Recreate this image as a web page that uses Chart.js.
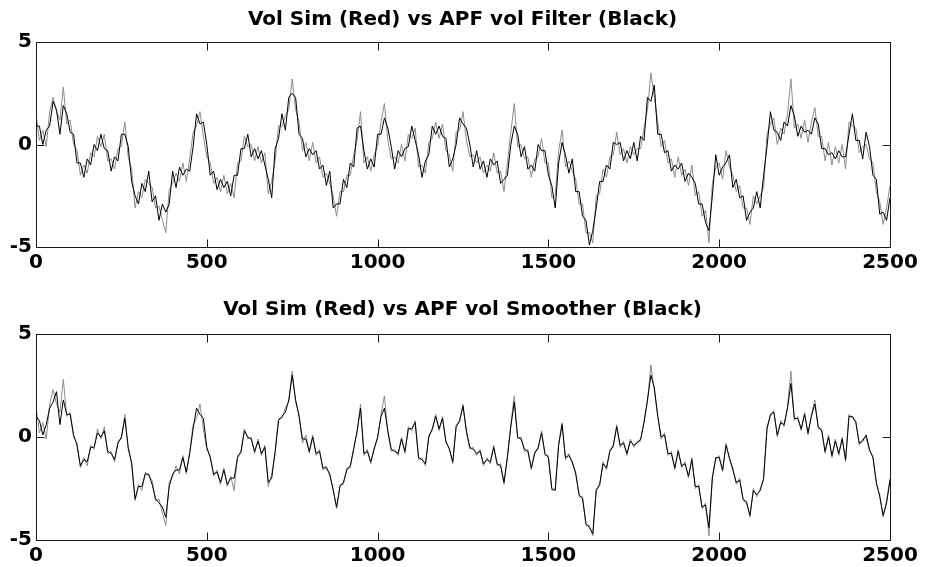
<!DOCTYPE html>
<html>
<head>
<meta charset="utf-8">
<script src="https://cdn.jsdelivr.net/npm/chart.js@4/dist/chart.umd.min.js"></script>
<style>
  html, body { margin: 0; padding: 0; background: #fff; }
  #wrap { position: relative; width: 925px; height: 567px; background: #fff; }
  #c1 { position: absolute; left: 0; top: 0; }
  #c2 { position: absolute; left: 0; top: 283px; }
</style>
</head>
<body>
<div id="wrap">
  <canvas id="c1" width="925" height="283"></canvas>
  <canvas id="c2" width="925" height="284"></canvas>
</div>
<script>
// ---- data (x step of 10 time units, t = 0 .. 2500) ----
const X_STEP = 10;
const X_TICKS = [0, 500, 1000, 1500, 2000, 2500];
const Y_TICKS = [-5, 0, 5];
const TITLES = [
  'Vol Sim (Red) vs APF vol Filter (Black)',
  'Vol Sim (Red) vs APF vol Smoother (Black)'
];

// simulated volatility (drawn grey in the scan)
const SIM = [
  1.5,0.2,0.7,-0.1,1.6,2.3,1.6,1.2,2.8,1.0,
  1.2,0.0,-0.3,-1.5,-1.0,-1.4,-0.4,-0.6,0.4,-0.1,
  0.5,-0.8,-0.7,-1.2,-0.2,-0.1,1.1,-0.6,-1.2,-3.1,
  -2.3,-2.6,-1.7,-1.9,-2.1,-3.1,-3.0,-3.7,-4.3,-2.2,
  -1.9,-1.4,-1.8,-0.9,-1.8,-0.7,0.6,0.9,1.6,0.4,
  -0.6,-0.9,-1.9,-1.6,-2.3,-1.5,-2.4,-1.9,-2.6,-0.9,
  -0.8,0.4,-0.1,0.0,-0.8,-0.1,-0.9,-0.4,-2.4,-1.8,
  -0.8,0.9,0.9,1.4,1.7,3.2,1.7,1.1,-0.3,0.1,
  -0.8,0.1,-0.9,-0.6,-1.6,-1.4,-1.9,-2.5,-3.5,-2.3,
  -2.3,-1.5,-1.5,-0.5,0.2,1.6,-0.9,-0.6,-1.3,-0.5,
  -0.1,1.1,2.0,0.2,-0.7,-0.6,-0.9,0.0,-0.8,0.5,
  0.3,0.8,-1.1,-1.0,-1.4,0.1,0.3,1.1,0.3,1.0,
  -0.3,-0.5,-1.3,0.6,0.7,1.6,0.2,-0.6,-0.5,-0.9,
  -0.6,-1.4,-1.0,-1.3,-0.4,-1.4,-1.3,-2.3,-0.9,0.6,
  2.0,-0.1,0.0,-0.7,-0.6,-1.6,-0.7,-0.6,0.3,-0.9,
  -0.9,-2.6,-2.5,-0.3,0.7,-1.1,-0.8,-1.3,-1.7,-2.9,
  -2.9,-4.3,-4.3,-4.8,-2.5,-2.4,-1.2,-1.6,-0.6,-0.5,
  0.6,-0.5,-0.2,-0.9,-0.1,-0.5,-0.2,-0.2,0.8,1.7,
  3.5,2.3,1.1,-0.1,0.2,-0.9,-0.7,-1.6,-0.6,-1.5,
  -1.2,-2.0,-1.0,-2.5,-2.3,-3.5,-3.2,-4.8,-1.9,-1.1,
  -0.9,-1.7,-0.3,-1.1,-1.5,-2.3,-2.0,-3.1,-3.1,-3.9,
  -2.5,-2.9,-2.5,-2.1,0.5,1.0,1.3,0.0,0.8,0.5,
  1.5,3.2,0.8,1.0,0.3,1.2,0.1,1.1,1.8,0.4,
  0.4,-0.8,0.1,-1.0,-0.1,-0.9,0.0,-1.2,1.1,0.9,
  0.8,-0.4,-0.1,0.0,-0.7,-0.9,-2.3,-2.8,-3.9,-3.1,
  -2.0
];

// APF filter estimate (black, top panel)
const FILTER = [
  0.9,0.9,0.0,0.7,0.9,2.1,1.7,0.5,1.9,1.5,
  0.6,0.5,-0.9,-0.9,-1.6,-0.7,-1.0,0.0,-0.3,0.5,
  -0.2,-0.3,-1.3,-0.6,-0.8,0.5,0.5,-0.1,-1.8,-2.5,
  -2.9,-1.9,-2.3,-1.3,-2.8,-2.5,-3.7,-2.9,-3.3,-2.9,
  -1.3,-2.1,-1.1,-1.5,-1.2,-1.3,-0.1,1.5,1.0,1.1,
  0.0,-1.5,-1.3,-2.2,-1.7,-2.1,-1.8,-2.5,-1.5,-1.5,
  -0.2,-0.2,0.5,-0.6,-0.2,-0.7,-0.3,-1.0,-1.7,-2.6,
  -0.2,0.3,1.5,0.7,2.3,2.5,2.3,0.5,0.3,-0.6,
  -0.2,-0.5,-0.3,-1.2,-1.0,-2.0,-1.3,-3.1,-2.9,-2.9,
  -1.7,-2.1,-0.9,-1.1,0.8,0.9,-0.3,-1.2,-0.7,-1.1,
  0.5,0.5,1.3,0.8,-0.1,-1.2,-0.3,-0.6,-0.2,-0.1,
  0.9,0.2,-0.5,-1.6,-0.8,-0.5,0.9,0.5,0.9,0.4,
  0.3,-1.1,-0.7,0.0,1.3,1.0,0.8,0.0,-1.1,-0.3,
  -1.2,-0.8,-1.6,-0.7,-1.0,-0.8,-1.9,-1.7,-1.5,0.0,
  0.9,0.5,-0.6,-0.1,-1.2,-1.0,-1.3,0.0,-0.3,-0.3,
  -1.5,-2.0,-3.1,-0.9,0.1,-0.5,-1.4,-0.7,-2.3,-2.3,
  -3.5,-3.7,-4.9,-4.2,-3.1,-1.8,-1.8,-1.0,-1.2,0.1,
  0.0,0.1,-0.8,-0.3,-0.7,0.1,-0.8,0.4,0.2,2.3,
  2.1,2.9,0.5,0.5,-0.4,-0.3,-1.3,-1.0,-1.2,-0.9,
  -1.8,-1.4,-1.6,-1.9,-2.9,-2.9,-3.8,-4.2,-2.5,-0.5,
  -1.5,-1.1,-0.9,-0.5,-2.1,-1.7,-2.6,-2.5,-3.7,-3.3,
  -3.1,-2.3,-3.1,-1.5,-0.1,1.6,0.7,0.6,0.2,1.1,
  0.9,1.9,1.4,0.4,0.9,0.6,0.7,0.5,1.3,1.0,
  -0.2,-0.2,-0.5,-0.4,-0.7,-0.3,-0.6,-0.6,0.5,1.5,
  0.2,0.2,-0.7,0.6,-0.1,-1.5,-1.7,-3.4,-3.3,-3.7,
  -2.6
];

// APF smoother estimate (black, bottom panel)
const SMOOTHER = [
  1.0,0.8,0.1,0.6,1.4,1.7,2.2,0.6,1.8,1.1,
  1.1,0.1,-0.4,-1.4,-1.1,-1.2,-0.5,-0.5,0.2,0.0,
  0.3,-0.7,-0.8,-1.1,-0.3,0.0,0.9,-0.5,-1.3,-3.0,
  -2.4,-2.4,-1.8,-1.8,-2.3,-3.0,-3.2,-3.4,-3.9,-2.4,
  -1.8,-1.6,-1.6,-1.0,-1.7,-0.8,0.4,1.4,1.1,0.9,
  -0.5,-1.0,-1.8,-1.7,-2.2,-1.6,-2.3,-2.0,-2.0,-1.0,
  -0.7,0.3,0.0,-0.1,-0.7,-0.2,-0.8,-0.5,-2.2,-2.0,
  -0.7,0.8,1.0,1.2,1.8,3.0,1.8,1.0,-0.1,-0.1,
  -0.7,0.0,-0.8,-0.7,-1.5,-1.5,-1.8,-2.6,-3.4,-2.4,
  -2.2,-1.6,-1.4,-0.6,0.3,1.4,-0.8,-0.7,-1.2,-0.6,
  0.0,1.0,1.4,0.3,-0.6,-0.7,-0.8,-0.1,-0.7,0.4,
  0.4,0.7,-1.0,-1.1,-1.3,0.0,0.4,1.0,0.4,0.9,
  -0.2,-0.6,-1.2,0.5,0.8,1.5,0.3,-0.5,-0.6,-0.8,
  -0.7,-1.3,-1.1,-1.2,-0.5,-1.3,-1.4,-2.2,-1.0,0.5,
  1.7,0.0,-0.1,-0.6,-0.7,-1.5,-0.8,-0.5,0.2,-0.8,
  -1.0,-2.5,-2.6,-0.4,0.6,-1.0,-0.9,-1.2,-1.8,-2.8,
  -3.0,-4.2,-4.4,-4.7,-2.6,-2.3,-1.3,-1.5,-0.7,-0.4,
  0.5,-0.4,-0.3,-0.8,-0.2,-0.4,-0.3,-0.1,0.7,1.8,
  3.0,2.4,1.0,0.0,0.1,-0.8,-0.8,-1.5,-0.7,-1.4,
  -1.3,-1.9,-1.1,-2.4,-2.4,-3.4,-3.3,-4.4,-2.0,-1.0,
  -1.0,-1.6,-0.4,-1.0,-1.6,-2.2,-2.1,-3.0,-3.2,-3.8,
  -2.6,-2.8,-2.6,-2.0,0.4,1.1,1.2,0.1,0.7,0.6,
  1.4,2.6,0.9,0.9,0.4,1.1,0.2,1.0,1.6,0.5,
  0.3,-0.7,0.0,-0.9,-0.2,-0.8,-0.1,-1.1,1.0,1.0,
  0.7,-0.3,-0.2,0.1,-0.6,-1.0,-2.2,-2.9,-3.8,-3.2,
  -2.1
];

// ---- chart construction ----
const toPoints = arr => arr.map((v, i) => ({ x: i * X_STEP, y: v }));

const FONT = { family: 'DejaVu Sans', size: 20, weight: 'bold' };

// MATLAB-style box with inward ticks
const boxPlugin = {
  id: 'matlabBox',
  afterDraw(chart) {
    const { ctx, chartArea: a, scales } = chart;
    const L = Math.round(a.left) + 0.5, R = Math.round(a.right) + 0.5;
    const T = Math.round(a.top) + 0.5, B = Math.round(a.bottom) + 0.5;
    ctx.save();
    ctx.strokeStyle = '#1a1a1a';
    ctx.lineWidth = 1;
    ctx.strokeRect(L, T, R - L, B - T);
    ctx.beginPath();
    X_TICKS.forEach(v => {
      const px = Math.round(scales.x.getPixelForValue(v)) + 0.5;
      ctx.moveTo(px, B); ctx.lineTo(px, B - 8);
      ctx.moveTo(px, T); ctx.lineTo(px, T + 8);
    });
    Y_TICKS.forEach(v => {
      const py = Math.round(scales.y.getPixelForValue(v)) + 0.5;
      ctx.moveTo(L, py); ctx.lineTo(L + 8, py);
      ctx.moveTo(R, py); ctx.lineTo(R - 8, py);
    });
    ctx.stroke();
    ctx.restore();
  }
};

function makeChart(canvasId, title, blackSeries, titlePad, xAxisHeight) {
  return new Chart(document.getElementById(canvasId), {
    type: 'line',
    data: {
      datasets: [
        {
          label: 'APF',
          data: toPoints(blackSeries),
          borderColor: '#000000',
          borderWidth: 1,
          pointRadius: 0,
          tension: 0,
          order: 0
        },
        {
          label: 'Vol Sim',
          data: toPoints(SIM),
          borderColor: '#8c8c8c',
          borderWidth: 1,
          pointRadius: 0,
          tension: 0,
          order: 1
        }
      ]
    },
    options: {
      responsive: false,
      animation: false,
      devicePixelRatio: 1,
      layout: { padding: 0 },
      plugins: {
        legend: { display: false },
        tooltip: { enabled: false },
        title: {
          display: true,
          text: title,
          color: '#000',
          font: FONT,
          padding: titlePad
        }
      },
      scales: {
        x: {
          type: 'linear',
          min: 0,
          max: 2500,
          afterBuildTicks: s => { s.ticks = X_TICKS.map(v => ({ value: v })); },
          afterFit: s => { s.height = xAxisHeight; },
          grid: { display: false, drawTicks: false },
          border: { display: false },
          ticks: {
            color: '#000', font: FONT, padding: 4, maxRotation: 0, autoSkip: false,
            callback: v => String(v)
          }
        },
        y: {
          type: 'linear',
          min: -5,
          max: 5,
          afterBuildTicks: s => { s.ticks = Y_TICKS.map(v => ({ value: v })); },
          afterFit: s => { s.width = 36; },
          grid: { display: false, drawTicks: false },
          border: { display: false },
          ticks: { color: '#000', font: FONT, padding: 4, callback: v => String(v) }
        },
        yRight: {
          type: 'linear',
          position: 'right',
          min: -5,
          max: 5,
          afterFit: s => { s.width = 35; },
          grid: { display: false, drawTicks: false },
          border: { display: false },
          ticks: { display: false }
        }
      }
    },
    plugins: [boxPlugin]
  });
}

makeChart('c1', TITLES[0], FILTER, { top: 8, bottom: 10 }, 36);
makeChart('c2', TITLES[1], SMOOTHER, { top: 15, bottom: 12 }, 27);
</script>
</body>
</html>
